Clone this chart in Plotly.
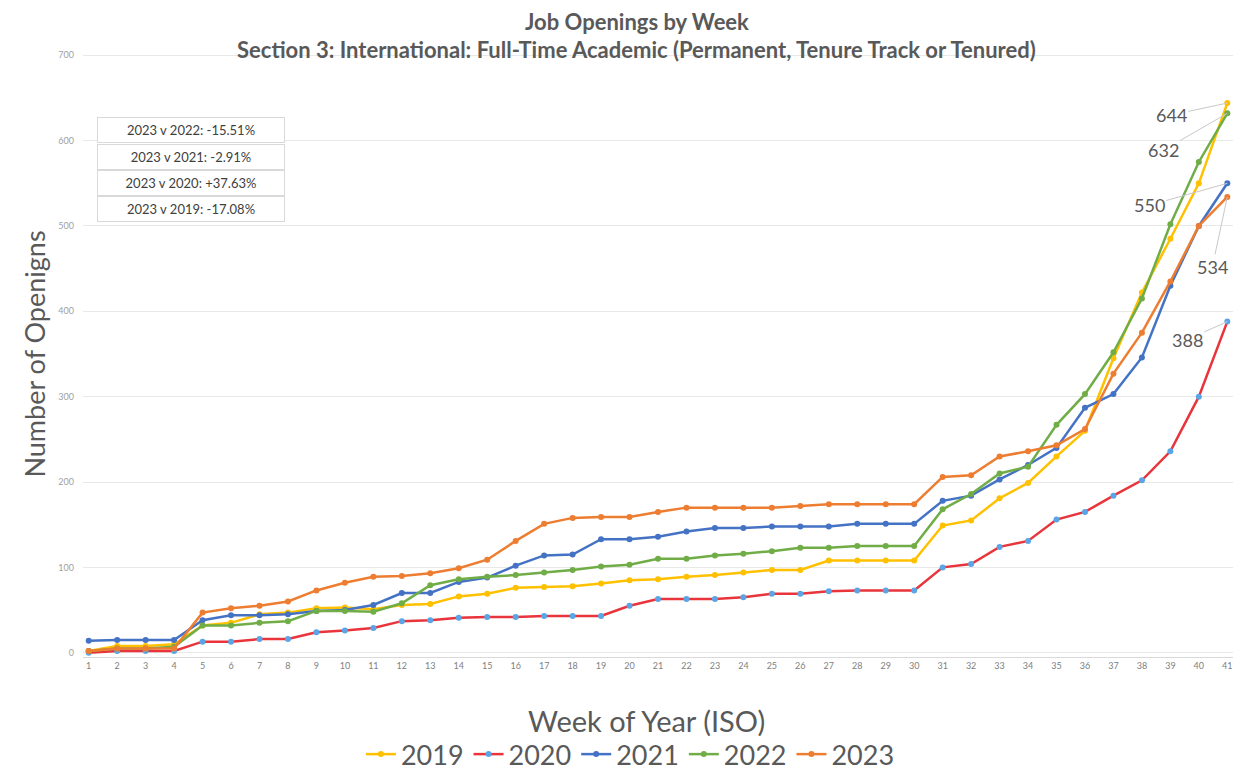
import plotly.graph_objects as go

weeks = list(range(1, 42))

y2019 = [2, 8, 8, 10, 32, 35, 45, 47, 52, 53, 51, 56, 57, 66, 69, 76, 77, 78, 81, 85,
         86, 89, 91, 94, 97, 97, 108, 108, 108, 108, 149, 155, 181, 199, 230, 260, 345, 422, 485, 550, 644]
y2020 = [0, 2, 2, 2, 13, 13, 16, 16, 24, 26, 29, 37, 38, 41, 42, 42, 43, 43, 43, 55,
         63, 63, 63, 65, 69, 69, 72, 73, 73, 73, 100, 104, 124, 131, 156, 165, 184, 202, 236, 300, 388]
y2021 = [14, 15, 15, 15, 38, 44, 44, 45, 49, 50, 56, 70, 70, 83, 88, 102, 114, 115, 133, 133,
         136, 142, 146, 146, 148, 148, 148, 151, 151, 151, 178, 184, 203, 220, 240, 287, 303, 346, 430, 500, 550]
y2022 = [2, 5, 5, 7, 32, 32, 35, 37, 49, 49, 48, 58, 79, 86, 89, 91, 94, 97, 101, 103,
         110, 110, 114, 116, 119, 123, 123, 125, 125, 125, 168, 186, 210, 218, 267, 303, 352, 415, 502, 575, 632]
y2023 = [2, 5, 5, 5, 47, 52, 55, 60, 73, 82, 89, 90, 93, 99, 109, 131, 151, 158, 159, 159,
         165, 170, 170, 170, 170, 172, 174, 174, 174, 174, 206, 208, 230, 236, 243, 262, 327, 375, 435, 500, 534]

comparisons = ["2023 v 2022: -15.51%", "2023 v 2021: -2.91%",
               "2023 v 2020: +37.63%", "2023 v 2019: -17.08%"]

series = [
    ("2019", y2019, "#FFC000", "#FFC000"),
    ("2020", y2020, "#E8343A", "#5BA5E6"),
    ("2021", y2021, "#4472C4", "#4472C4"),
    ("2022", y2022, "#70AD47", "#70AD47"),
    ("2023", y2023, "#ED7D31", "#ED7D31"),
]

fig = go.Figure()
for name, ys, lc, mc in series:
    fig.add_trace(go.Scatter(x=weeks, y=ys, name=name, mode="lines+markers",
                             line=dict(color=lc, width=2.5),
                             marker=dict(color=mc, size=6)))

# end-of-series value labels with leader lines
end_labels = [(y2019, -56, 12), (y2022, -64, 37), (y2021, -78, 22), (y2023, -15, 70), (y2020, -40, 18)]
for ys, ax, ay in end_labels:
    fig.add_annotation(x=41, y=ys[-1], text=str(ys[-1]), showarrow=True, arrowhead=0,
                       arrowwidth=1, arrowcolor="#C8C8C8", ax=ax, ay=ay,
                       font=dict(size=18, color="#595959"))

# comparison boxes
for i, txt in enumerate(comparisons):
    fig.add_annotation(xref="paper", yref="paper", x=0.0122, y=0.8696 - i * 0.0437,
                       xanchor="left", yanchor="middle", text=txt, showarrow=False,
                       width=184, height=22, bordercolor="#D9D9D9", borderwidth=1,
                       bgcolor="white", font=dict(size=13, color="#404040"))

# titles
fig.add_annotation(xref="paper", yref="paper", x=0.4817, y=1.048, xanchor="center", yanchor="middle",
                   text="<b>Job Openings by Week</b>", showarrow=False,
                   font=dict(size=22, color="#595959"))
fig.add_annotation(xref="paper", yref="paper", x=0.4817, y=1.0017, xanchor="center", yanchor="middle",
                   text="<b>Section 3: International: Full-Time Academic (Permanent, Tenure Track or Tenured)</b>",
                   showarrow=False, font=dict(size=22, color="#595959"))
fig.add_annotation(xref="paper", yref="paper", x=0.49, y=-0.104, xanchor="center", yanchor="middle",
                   text="Week of Year (ISO)", showarrow=False,
                   font=dict(size=29, color="#595959"))

# outer chart border
fig.add_shape(type="rect", xref="paper", yref="paper", x0=-0.066, x1=1.02, y0=-0.21, y1=1.0776,
              line=dict(color="#E6E6E6", width=1))

fig.update_layout(
    width=1252, height=782,
    paper_bgcolor="white", plot_bgcolor="white",
    font=dict(family="Lato, Open Sans, sans-serif", color="#595959"),
    margin=dict(l=75, r=27, t=43, b=133, autoexpand=False),
    xaxis=dict(range=[0.8, 41.2], tickmode="linear", dtick=1, showgrid=False,
               showline=True, linecolor="#D9D9D9", zeroline=False,
               tickfont=dict(size=9, color="#808080")),
    yaxis=dict(range=[-5, 705], dtick=100, gridcolor="#E8E8E8", zeroline=False,
               tickfont=dict(size=9, color="#A0A0A0"), ticklabelstandoff=8,
               title=dict(text="Number of Openigns", font=dict(size=27, color="#595959"), standoff=4)),
    legend=dict(orientation="h", x=0.476, xanchor="center", y=-0.161, yanchor="middle",
                font=dict(size=27, color="#595959"), itemwidth=30),
    showlegend=True,
)

fig.write_html("out.html")
